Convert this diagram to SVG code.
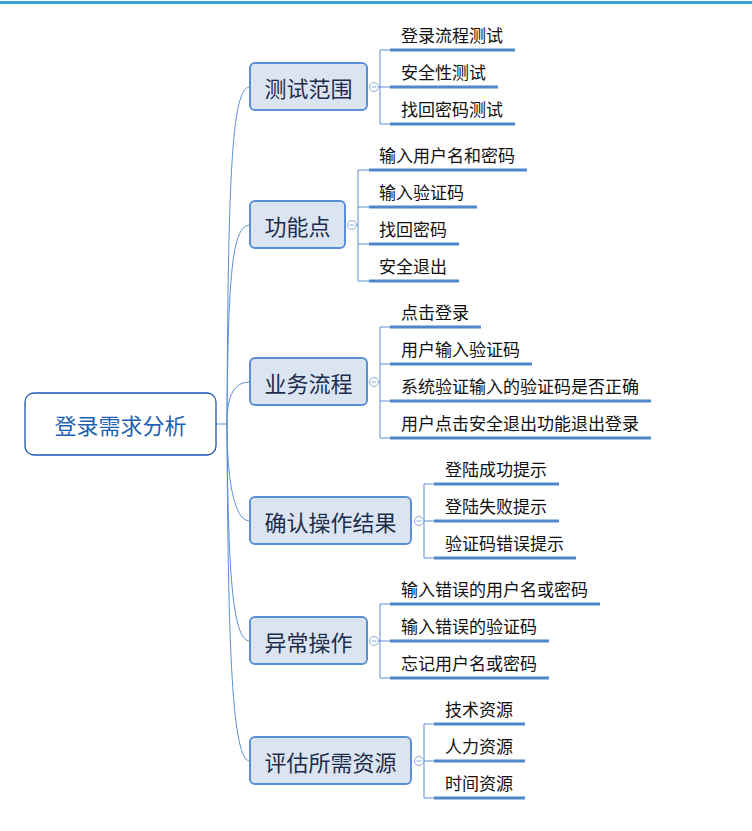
<svg xmlns="http://www.w3.org/2000/svg" width="752" height="831" viewBox="0 0 752 831">
<style>
.bar{fill:#35a2d3}
.root rect{fill:#fff;stroke:#1d55ae;stroke-width:1.3}
.root text{font-family:"Noto Sans CJK SC",sans-serif;font-size:22px;fill:#1f5fb4;text-anchor:middle;dominant-baseline:central}
.br rect{fill:#dbe5f1;stroke:#5a8fd5;stroke-width:2}
.br text{font-family:"Noto Sans CJK SC",sans-serif;font-size:22px;fill:#1f2d4d;text-anchor:middle;dominant-baseline:central}
.tog{fill:#fff;stroke:#8aaee0;stroke-width:1}
.tl{stroke:#8aaee0;stroke-width:1}
.lf text{font-family:"Noto Sans CJK SC",sans-serif;font-size:17px;fill:#111;dominant-baseline:central}
.ul{stroke:#4f86cc;stroke-width:3}
.cn path,.cn line{fill:none;stroke:#5b8fd5;stroke-width:1}
</style>
<rect class="bar" x="0" y="1" width="752" height="3"/>

<g class="cn" id="connectors">
<line x1="216" y1="424" x2="227" y2="424"/>
<path d="M227,424 C228,170 232,87 250,87"/>
<path d="M227,424 C228,275 232,225 250,225"/>
<path d="M227,424 C227,395 234,382 250,382"/>
<path d="M227,424 C227,480 234,521 250,521"/>
<path d="M227,424 C228,570 232,641 250,641"/>
<path d="M227,424 C228,650 232,761 250,761"/>
<line x1="378.5" y1="87" x2="380" y2="87"/>
<line x1="380" y1="50" x2="380" y2="124"/>
<line x1="380" y1="50" x2="390" y2="50"/><line x1="380" y1="87" x2="390" y2="87"/><line x1="380" y1="124" x2="390" y2="124"/>
<line x1="356.5" y1="225" x2="358" y2="225"/>
<line x1="358" y1="170" x2="358" y2="281"/>
<line x1="358" y1="170" x2="369" y2="170"/><line x1="358" y1="207" x2="369" y2="207"/><line x1="358" y1="244" x2="369" y2="244"/><line x1="358" y1="281" x2="369" y2="281"/>
<line x1="378.5" y1="382" x2="380" y2="382"/>
<line x1="380" y1="327" x2="380" y2="438"/>
<line x1="380" y1="327" x2="390" y2="327"/><line x1="380" y1="364" x2="390" y2="364"/><line x1="380" y1="401" x2="390" y2="401"/><line x1="380" y1="438" x2="390" y2="438"/>
<line x1="423.5" y1="521" x2="424" y2="521"/>
<line x1="424" y1="484" x2="424" y2="558"/>
<line x1="424" y1="484" x2="434" y2="484"/><line x1="424" y1="521" x2="434" y2="521"/><line x1="424" y1="558" x2="434" y2="558"/>
<line x1="378.5" y1="641" x2="380" y2="641"/>
<line x1="380" y1="604" x2="380" y2="678"/>
<line x1="380" y1="604" x2="390" y2="604"/><line x1="380" y1="641" x2="390" y2="641"/><line x1="380" y1="678" x2="390" y2="678"/>
<line x1="423.5" y1="761" x2="424" y2="761"/>
<line x1="424" y1="724" x2="424" y2="798"/>
<line x1="424" y1="724" x2="434" y2="724"/><line x1="424" y1="761" x2="434" y2="761"/><line x1="424" y1="798" x2="434" y2="798"/>
</g>

<g class="root" id="root"><rect x="25" y="393" width="191" height="62" rx="9"/><text x="120.5" y="424">登录需求分析</text></g>

<g class="br" id="b1"><rect x="250" y="63" width="117" height="47" rx="5"/><text x="308.5" y="87">测试范围</text>
<circle class="tog" cx="374" cy="87" r="4.5"/><line class="tl" x1="371.5" y1="87" x2="376.5" y2="87"/></g>
<g class="br" id="b2"><rect x="250" y="201" width="95" height="47" rx="5"/><text x="297.5" y="225">功能点</text>
<circle class="tog" cx="352" cy="225" r="4.5"/><line class="tl" x1="349.5" y1="225" x2="354.5" y2="225"/></g>
<g class="br" id="b3"><rect x="250" y="358" width="117" height="47" rx="5"/><text x="308.5" y="382">业务流程</text>
<circle class="tog" cx="374" cy="382" r="4.5"/><line class="tl" x1="371.5" y1="382" x2="376.5" y2="382"/></g>
<g class="br" id="b4"><rect x="250" y="497" width="161" height="47" rx="5"/><text x="330.5" y="521">确认操作结果</text>
<circle class="tog" cx="419" cy="521" r="4.5"/><line class="tl" x1="416.5" y1="521" x2="421.5" y2="521"/></g>
<g class="br" id="b5"><rect x="250" y="617" width="117" height="47" rx="5"/><text x="308.5" y="641">异常操作</text>
<circle class="tog" cx="374" cy="641" r="4.5"/><line class="tl" x1="371.5" y1="641" x2="376.5" y2="641"/></g>
<g class="br" id="b6"><rect x="250" y="737" width="161" height="47" rx="5"/><text x="330.5" y="761">评估所需资源</text>
<circle class="tog" cx="419" cy="761" r="4.5"/><line class="tl" x1="416.5" y1="761" x2="421.5" y2="761"/></g>

<g class="lf" id="b1-leaves">
<g id="l1a"><line class="ul" x1="390" y1="50" x2="515" y2="50"/><text x="401" y="34">登录流程测试</text></g>
<g id="l1b"><line class="ul" x1="390" y1="87" x2="498" y2="87"/><text x="401" y="71">安全性测试</text></g>
<g id="l1c"><line class="ul" x1="390" y1="124" x2="515" y2="124"/><text x="401" y="108">找回密码测试</text></g>
</g>
<g class="lf" id="b2-leaves">
<g id="l2a"><line class="ul" x1="369" y1="170" x2="527" y2="170"/><text x="379" y="154">输入用户名和密码</text></g>
<g id="l2b"><line class="ul" x1="369" y1="207" x2="477" y2="207"/><text x="379" y="191">输入验证码</text></g>
<g id="l2c"><line class="ul" x1="369" y1="244" x2="459" y2="244"/><text x="379" y="228">找回密码</text></g>
<g id="l2d"><line class="ul" x1="369" y1="281" x2="459" y2="281"/><text x="379" y="265">安全退出</text></g>
</g>
<g class="lf" id="b3-leaves">
<g id="l3a"><line class="ul" x1="390" y1="327" x2="481" y2="327"/><text x="401" y="311">点击登录</text></g>
<g id="l3b"><line class="ul" x1="390" y1="364" x2="532" y2="364"/><text x="401" y="348">用户输入验证码</text></g>
<g id="l3c"><line class="ul" x1="390" y1="401" x2="651" y2="401"/><text x="401" y="385">系统验证输入的验证码是否正确</text></g>
<g id="l3d"><line class="ul" x1="390" y1="438" x2="651" y2="438"/><text x="401" y="422">用户点击安全退出功能退出登录</text></g>
</g>
<g class="lf" id="b4-leaves">
<g id="l4a"><line class="ul" x1="434" y1="484" x2="559" y2="484"/><text x="445" y="468">登陆成功提示</text></g>
<g id="l4b"><line class="ul" x1="434" y1="521" x2="559" y2="521"/><text x="445" y="505">登陆失败提示</text></g>
<g id="l4c"><line class="ul" x1="434" y1="558" x2="576" y2="558"/><text x="445" y="542">验证码错误提示</text></g>
</g>
<g class="lf" id="b5-leaves">
<g id="l5a"><line class="ul" x1="390" y1="604" x2="600" y2="604"/><text x="401" y="588">输入错误的用户名或密码</text></g>
<g id="l5b"><line class="ul" x1="390" y1="641" x2="549" y2="641"/><text x="401" y="625">输入错误的验证码</text></g>
<g id="l5c"><line class="ul" x1="390" y1="678" x2="549" y2="678"/><text x="401" y="662">忘记用户名或密码</text></g>
</g>
<g class="lf" id="b6-leaves">
<g id="l6a"><line class="ul" x1="434" y1="724" x2="525" y2="724"/><text x="445" y="708">技术资源</text></g>
<g id="l6b"><line class="ul" x1="434" y1="761" x2="525" y2="761"/><text x="445" y="745">人力资源</text></g>
<g id="l6c"><line class="ul" x1="434" y1="798" x2="525" y2="798"/><text x="445" y="782">时间资源</text></g>
</g>
</svg>
